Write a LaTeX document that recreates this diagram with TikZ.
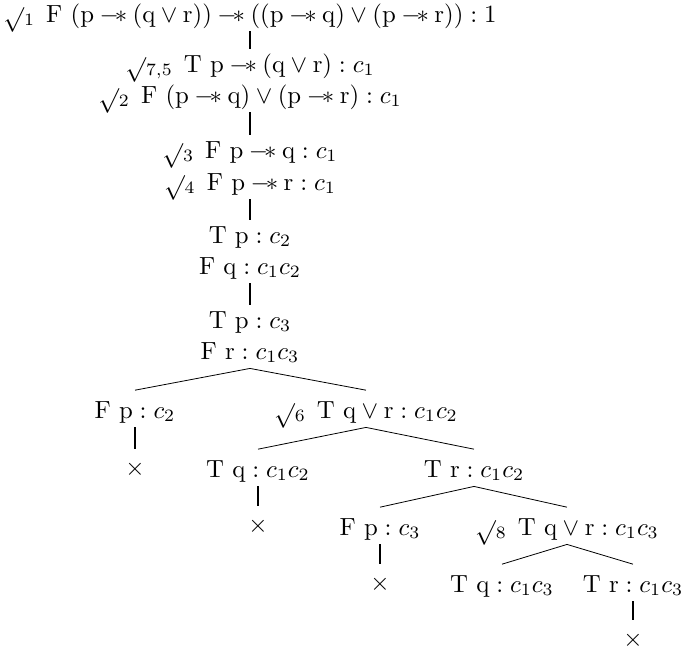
\documentclass[tikz,border=0pt]{standalone}
\newcommand{\wand}{\mathbin{-\mkern-3mu\ast}}
\newcommand{\rmv}[1]{\mathrm{#1}}
\newcommand{\ckgap}{\mskip 8mu}
\newcommand{\ck}[1]{\mathord{\raisebox{-1.8pt}[6pt][0pt]{$\surd$}}_{#1}\ckgap}
\begin{document}
\begin{tikzpicture}[x=1pt,y=-1pt,
  tn/.style={scale=2.48, anchor=base, inner xsep=0pt, inner ysep=1.6pt, text height=7.4pt, text depth=2pt},
  xnode/.style={tn, text height=8.8pt},
  vline/.style={line width=2.2pt},
  bline/.style={line width=0.8pt}]
\path[use as bounding box] (0,0) rectangle (681,656);
% trunk
\node[tn] (r) at (250,22) {$\ck{1}\rmv{F}\ (\rmv p \wand (\rmv q \vee \rmv r)) \wand ((\rmv p \wand \rmv q) \vee (\rmv p \wand \rmv r)) : 1$};
\node[tn] (a1) at (250,72) {$\ck{7,5}\rmv{T}\ \rmv p \wand (\rmv q \vee \rmv r) : c_1$};
\node[tn] (a2) at (250,103) {$\ck{2}\rmv{F}\ (\rmv p \wand \rmv q) \vee (\rmv p \wand \rmv r) : c_1$};
\node[tn] (b1) at (250,158) {$\ck{3}\rmv{F}\ \rmv p \wand \rmv q : c_1$};
\node[tn] (b2) at (250,190) {$\ck{4}\rmv{F}\ \rmv p \wand \rmv r : c_1$};
\node[tn] (c1) at (250,243) {$\rmv{T}\ \rmv p : c_2$};
\node[tn] (c2) at (250,274) {$\rmv{F}\ \rmv q : c_1c_2$};
\node[tn] (d1) at (250,328) {$\rmv{T}\ \rmv p : c_3$};
\node[tn] (d2) at (250,359) {$\rmv{F}\ \rmv r : c_1c_3$};
% level 1 branch
\node[tn] (e1) at (135,418) {$\rmv{F}\ \rmv p : c_2$};
\node[tn] (e2) at (366,418) {$\ck{6}\rmv{T}\ \rmv q \vee \rmv r : c_1c_2$};
\node[xnode] (x1) at (135,475) {$\times$};
% level 2 branch
\node[tn] (f1) at (258,477) {$\rmv{T}\ \rmv q : c_1c_2$};
\node[tn] (f2) at (474,477) {$\rmv{T}\ \rmv r : c_1c_2$};
\node[xnode] (x2) at (258,532) {$\times$};
% level 3 branch
\node[tn] (g1) at (380,535) {$\rmv{F}\ \rmv p : c_3$};
\node[tn] (g2) at (567,535) {$\ck{8}\rmv{T}\ \rmv q \vee \rmv r : c_1c_3$};
\node[xnode] (x3) at (380,590) {$\times$};
% level 4 branch
\node[tn] (h1) at (502,592) {$\rmv{T}\ \rmv q : c_1c_3$};
\node[tn] (h2) at (633,592) {$\rmv{T}\ \rmv r : c_1c_3$};
\node[xnode] (x4) at (633,646) {$\times$};
% vertical connectors
\draw[vline] (r.south) -- (a1.north);
\draw[vline] (a2.south) -- (b1.north);
\draw[vline] (b2.south) -- (c1.north);
\draw[vline] (c2.south) -- (d1.north);
\draw[vline] (e1.south) -- (x1.north);
\draw[vline] (f1.south) -- (x2.north);
\draw[vline] (g1.south) -- (x3.north);
\draw[vline] (h2.south) -- (x4.north);
% branch connectors
\draw[bline] ([yshift=5pt]e1.north) -- (d2.south) -- ([yshift=5pt]e2.north);
\draw[bline] ([yshift=5pt]f1.north) -- (e2.south) -- ([yshift=5pt]f2.north);
\draw[bline] ([yshift=5pt]g1.north) -- (f2.south) -- ([yshift=5pt]g2.north);
\draw[bline] ([yshift=5pt]h1.north) -- (g2.south) -- ([yshift=5pt]h2.north);
\end{tikzpicture}
\end{document}
